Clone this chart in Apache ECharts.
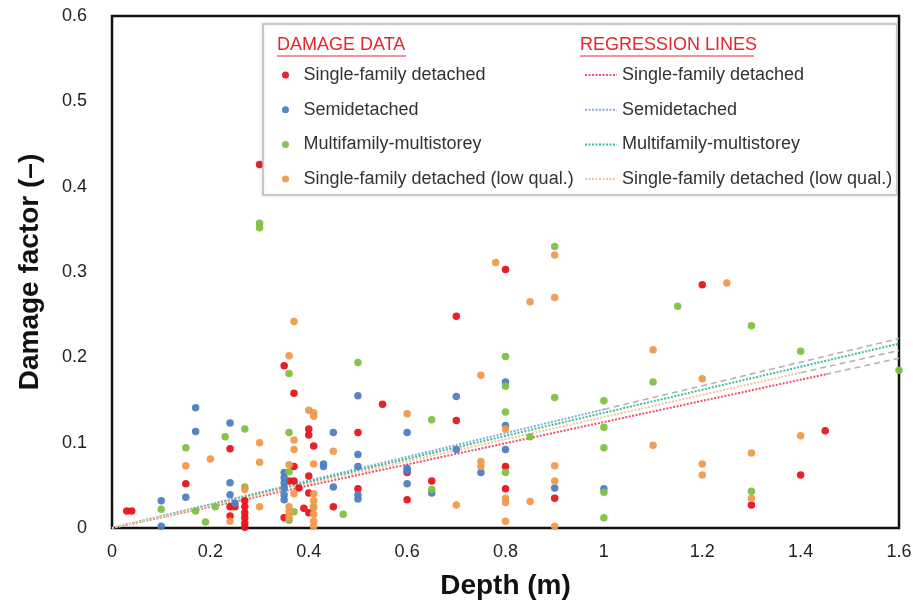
<!DOCTYPE html>
<html>
<head>
  <meta charset="utf-8">
  <style>
    html, body { margin: 0; padding: 0; width: 100%; height: 100%; overflow: hidden; background: #fff; }
  </style>
  <script src="https://cdn.jsdelivr.net/npm/echarts@6/dist/echarts.min.js"></script>
</head>
<body>
  <div id="container" style="width: 918px; height: 606px;"></div>
  <script>
    // damage data: [depth (m), damage factor]
    const sfdData = [
      [0.03, 0.02], [0.04, 0.02], [0.15, 0.052], [0.24, 0.093], [0.24, 0.025], [0.25, 0.025], [0.24, 0.014],
      [0.27, 0.032], [0.27, 0.025], [0.27, 0.018], [0.27, 0.012], [0.27, 0.006], [0.27, 0.001],
      [0.3, 0.426], [0.35, 0.19], [0.37, 0.158], [0.40, 0.116], [0.40, 0.109], [0.41, 0.096], [0.37, 0.072],
      [0.40, 0.061], [0.36, 0.055], [0.37, 0.055], [0.38, 0.047], [0.40, 0.041], [0.39, 0.023], [0.40, 0.018],
      [0.35, 0.012], [0.45, 0.025], [0.5, 0.112], [0.5, 0.046], [0.55, 0.145], [0.6, 0.065], [0.6, 0.033],
      [0.65, 0.055], [0.7, 0.248], [0.7, 0.126], [0.8, 0.303], [0.8, 0.072], [0.8, 0.046], [0.9, 0.035],
      [1.2, 0.285], [1.3, 0.027], [1.4, 0.062], [1.45, 0.114]
    ];
    const semiData = [
      [0.1, 0.032], [0.1, 0.002], [0.17, 0.141], [0.17, 0.113], [0.15, 0.036], [0.24, 0.123], [0.24, 0.053],
      [0.24, 0.039], [0.25, 0.029], [0.35, 0.065], [0.35, 0.059], [0.35, 0.053], [0.35, 0.047], [0.35, 0.039],
      [0.35, 0.033], [0.43, 0.075], [0.43, 0.072], [0.45, 0.112], [0.45, 0.048], [0.5, 0.155], [0.5, 0.086],
      [0.5, 0.072], [0.5, 0.039], [0.5, 0.034], [0.6, 0.112], [0.6, 0.07], [0.6, 0.067], [0.6, 0.052],
      [0.65, 0.041], [0.7, 0.154], [0.7, 0.092], [0.75, 0.065], [0.8, 0.171], [0.8, 0.12], [0.8, 0.092],
      [0.9, 0.047], [1.0, 0.046]
    ];
    const multiData = [
      [0.1, 0.022], [0.15, 0.094], [0.17, 0.02], [0.19, 0.007], [0.21, 0.025], [0.23, 0.107], [0.27, 0.116],
      [0.27, 0.048], [0.3, 0.352], [0.3, 0.357], [0.36, 0.181], [0.36, 0.112], [0.36, 0.066], [0.37, 0.019],
      [0.36, 0.009], [0.41, 0.025], [0.47, 0.016], [0.5, 0.194], [0.65, 0.127], [0.65, 0.045], [0.8, 0.201],
      [0.8, 0.166], [0.8, 0.136], [0.8, 0.065], [0.85, 0.107], [0.9, 0.33], [0.9, 0.153], [1.0, 0.149],
      [1.0, 0.118], [1.0, 0.094], [1.0, 0.042], [1.0, 0.012], [1.1, 0.171], [1.15, 0.26], [1.3, 0.237],
      [1.3, 0.043], [1.4, 0.207], [1.6, 0.185]
    ];
    const lowqData = [
      [0.15, 0.073], [0.2, 0.081], [0.24, 0.008], [0.27, 0.045], [0.3, 0.1], [0.3, 0.077], [0.3, 0.025],
      [0.36, 0.202], [0.37, 0.242], [0.37, 0.103], [0.37, 0.092], [0.36, 0.074], [0.36, 0.025], [0.36, 0.019],
      [0.36, 0.013], [0.37, 0.04], [0.40, 0.138], [0.41, 0.135], [0.41, 0.131], [0.41, 0.075], [0.41, 0.04],
      [0.41, 0.032], [0.41, 0.024], [0.41, 0.016], [0.41, 0.008], [0.41, 0.002], [0.45, 0.09], [0.6, 0.134],
      [0.7, 0.027], [0.75, 0.179], [0.75, 0.078], [0.75, 0.072], [0.78, 0.311], [0.8, 0.116], [0.8, 0.035],
      [0.8, 0.03], [0.8, 0.008], [0.85, 0.265], [0.85, 0.031], [0.9, 0.32], [0.9, 0.27], [0.9, 0.073],
      [0.9, 0.055], [0.9, 0.002], [1.1, 0.209], [1.1, 0.097], [1.2, 0.175], [1.2, 0.075], [1.2, 0.062],
      [1.25, 0.287], [1.3, 0.088], [1.3, 0.035], [1.4, 0.108]
    ];

    // regression lines (fitted part) and their dashed extensions
    const regSfd = [[0, 0], [1.45, 0.180]];
    const regSemi = [[0, 0], [1.0, 0.139]];
    const regMulti = [[0, 0], [1.6, 0.216]];
    const regLowq = [[0, 0], [1.4, 0.182]];
    const extSfd = [[1.45, 0.180], [1.6, 0.199]];
    const extSemi = [[1.0, 0.139], [1.6, 0.222]];
    const extLowq = [[1.4, 0.182], [1.6, 0.208]];

    const names = ['Single-family detached', 'Semidetached', 'Multifamily-multistorey', 'Single-family detached (low qual.)'];
    const xTicks = [0, 0.2, 0.4, 0.6, 0.8, 1, 1.2, 1.4, 1.6];
    const yTicks = [0, 0.1, 0.2, 0.3, 0.4, 0.5, 0.6];

    const font = "'Liberation Sans', Arial, Helvetica, sans-serif";
    const dotColors = ['#e8141c', '#4f7fc0', '#80c144', '#f09a4c'];
    const lineColors = ['#f0506c', '#90aad8', '#3cbf9c', '#f6c49c'];

    const chart = echarts.init(document.getElementById('container'), null, { renderer: 'canvas' });

    function scatter(i, data) {
      return {
        name: names[i], type: 'scatter', data: data, symbolSize: 7.5, z: 3,
        itemStyle: { color: dotColors[i], opacity: 0.95 }
      };
    }
    function reg(i, data) {
      return {
        name: 'reg:' + names[i], type: 'line', data: data, symbol: 'none', z: 2,
        itemStyle: { color: 'rgba(0,0,0,0)' },
        lineStyle: { color: lineColors[i], width: 2, type: [2, 1.5] }
      };
    }
    function ext(data) {
      return {
        type: 'line', data: data, symbol: 'none', z: 2, silent: true,
        lineStyle: { color: '#b4b4b4', width: 1.6, type: [6, 4] }
      };
    }

    const option = {
      animation: false,
      textStyle: { fontFamily: font },
      grid: {
        left: 112, right: 19, top: 16, bottom: 78,
        show: true, borderColor: '#111', borderWidth: 2.5, backgroundColor: 'transparent'
      },
      xAxis: {
        type: 'value', min: xTicks[0], max: xTicks[xTicks.length - 1], interval: 0.2,
        name: 'Depth (m)', nameLocation: 'middle', nameGap: 44,
        nameTextStyle: { fontSize: 28, fontWeight: 'bold', color: '#111', fontFamily: font },
        axisLine: { show: false }, axisTick: { show: false }, splitLine: { show: false },
        axisLabel: { fontSize: 18, color: '#222', margin: 15, fontFamily: font }
      },
      yAxis: {
        type: 'value', min: yTicks[0], max: yTicks[yTicks.length - 1], interval: 0.1,
        name: 'Damage factor (\u2013)', nameLocation: 'middle', nameGap: 68,
        nameTextStyle: { fontSize: 28, fontWeight: 'bold', color: '#111', fontFamily: font },
        axisLine: { show: false }, axisTick: { show: false }, splitLine: { show: false },
        axisLabel: { fontSize: 18, color: '#222', margin: 25, fontFamily: font }
      },
      legend: [
        {
          data: names, orient: 'vertical', left: 277, top: 60, z: 8,
          icon: 'circle', itemWidth: 26, itemHeight: 7, itemGap: 14.7,
          textStyle: { fontSize: 18, color: '#333', lineHeight: 20, fontFamily: font },
          selectedMode: false
        },
        {
          data: names.map(n => 'reg:' + n), orient: 'vertical', left: 579, top: 60, z: 8,
          itemWidth: 32, itemHeight: 7, itemGap: 14.7,
          formatter: n => n.replace('reg:', ''),
          textStyle: { fontSize: 18, color: '#333', lineHeight: 20, fontFamily: font },
          selectedMode: false
        }
      ],
      graphic: [
        {
          type: 'rect', z: 5, shape: { x: 263, y: 24, width: 634, height: 171 },
          style: { fill: '#fff', stroke: '#bdbdbd', lineWidth: 1.5, shadowBlur: 3, shadowColor: 'rgba(0,0,0,0.15)' }
        },
        { type: 'text', z: 6, x: 277, y: 36, style: { text: 'DAMAGE DATA', fill: '#e4262e', font: '18px ' + font } },
        { type: 'line', z: 6, shape: { x1: 277, y1: 56, x2: 406, y2: 56 }, style: { stroke: '#e4262e', lineWidth: 1.2 } },
        { type: 'text', z: 6, x: 580, y: 36, style: { text: 'REGRESSION LINES', fill: '#e4262e', font: '18px ' + font } },
        { type: 'line', z: 6, shape: { x1: 580, y1: 56, x2: 754, y2: 56 }, style: { stroke: '#e4262e', lineWidth: 1.2 } }
      ],
      series: [
        ext(extSfd), ext(extSemi), ext(extLowq),
        reg(0, regSfd), reg(1, regSemi), reg(2, regMulti), reg(3, regLowq),
        scatter(0, sfdData), scatter(1, semiData), scatter(2, multiData), scatter(3, lowqData)
      ]
    };

    chart.setOption(option);
  </script>
</body>
</html>
